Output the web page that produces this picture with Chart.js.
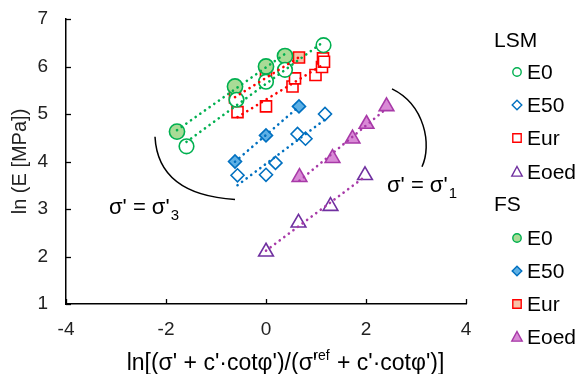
<!DOCTYPE html>
<html lang="en">
<head>
<meta charset="UTF-8">
<title>ln E vs ln stress</title>
<script src="https://cdn.jsdelivr.net/npm/chart.js"></script>
<style>
    body { margin: 0; background: #fff; }
    #wrap { width: 577px; height: 374px; }
</style>
</head>
<body>
<div id="wrap"><canvas id="chart" width="577" height="374"></canvas></div>
<script>
    // LSM (open markers)
    const lsmE0X = [-1.59, -0.59, 0.0, 0.38, 1.15];
    const lsmE0Y = [4.32, 5.30, 5.68, 5.93, 6.45];
    const lsmE50X = [-0.57, 0.0, 0.19, 0.63, 0.79, 1.18];
    const lsmE50Y = [3.71, 3.72, 3.97, 4.58, 4.48, 5.00];
    const lsmEurX = [-0.57, 0.0, 0.53, 0.58, 0.99, 1.12, 1.14, 1.16];
    const lsmEurY = [5.04, 5.16, 5.58, 5.75, 5.82, 5.99, 6.17, 6.10];
    const lsmEoedX = [0.0, 0.65, 1.29, 1.98];
    const lsmEoedY = [2.10, 2.71, 3.06, 3.71];

    // FS (filled markers)
    const fsE0X = [-1.78, -0.62, 0.0, 0.38];
    const fsE0Y = [4.63, 5.58, 6.00, 6.22];
    const fsE50X = [-0.62, 0.0, 0.66];
    const fsE50Y = [4.00, 4.55, 5.16];
    const fsEurX = [-0.62, 0.0, 0.66];
    const fsEurY = [5.35, 5.77, 6.19];
    const fsEoedX = [0.67, 1.33, 1.73, 2.01, 2.41];
    const fsEoedY = [3.67, 4.07, 4.48, 4.79, 5.16];

    const xTicks = [-4, -2, 0, 2, 4];
    const yTicks = [1, 2, 3, 4, 5, 6, 7];

    const FONT = '"Liberation Sans", Arial, sans-serif';

    const GREEN = '#00B050', BLUE = '#0070C0', RED = '#FF0000', VIOLET = '#7030A0', MAGENTA = '#A83AA8';

    // series definitions: style of each group
    const series = [
        { name: 'E0',   group: 'LSM', xs: lsmE0X,   ys: lsmE0Y,   style: 'circle',   r: 7.3, stroke: GREEN,  fill: '#ffffff', line: GREEN },
        { name: 'E50',  group: 'LSM', xs: lsmE50X,  ys: lsmE50Y,  style: 'rectRot',  r: 6.5, stroke: BLUE,   fill: '#ffffff', line: BLUE },
        { name: 'Eur',  group: 'LSM', xs: lsmEurX,  ys: lsmEurY,  style: 'rect',     r: 7.8, stroke: RED,    fill: '#ffffff', line: RED },
        { name: 'Eoed', group: 'LSM', xs: lsmEoedX, ys: lsmEoedY, style: 'triangle', r: 8.5, stroke: VIOLET, fill: '#ffffff', line: MAGENTA },
        { name: 'E0',   group: 'FS',  xs: fsE0X,    ys: fsE0Y,    style: 'circle',   r: 7.6, stroke: GREEN,  fill: '#A9DB96', line: GREEN },
        { name: 'E50',  group: 'FS',  xs: fsE50X,   ys: fsE50Y,   style: 'rectRot',  r: 6.5, stroke: BLUE,   fill: '#5EB0E5', line: BLUE },
        { name: 'Eur',  group: 'FS',  xs: fsEurX,   ys: fsEurY,   style: 'rect',     r: 7.8, stroke: RED,    fill: '#F8C3A8', line: RED },
        { name: 'Eoed', group: 'FS',  xs: fsEoedX,  ys: fsEoedY,  style: 'triangle', r: 8.5, stroke: MAGENTA, fill: '#D98AD6', line: MAGENTA }
    ];

    // least squares trend line across the x range of a series
    function trend(xs, ys) {
        const n = xs.length;
        const mx = xs.reduce((a, b) => a + b, 0) / n;
        const my = ys.reduce((a, b) => a + b, 0) / n;
        let sxy = 0, sxx = 0;
        for (let i = 0; i < n; i++) {
            sxy += (xs[i] - mx) * (ys[i] - my);
            sxx += (xs[i] - mx) * (xs[i] - mx);
        }
        const b = sxy / sxx, a = my - b * mx;
        const x0 = Math.min(...xs), x1 = Math.max(...xs);
        return [{ x: x0, y: a + b * x0 }, { x: x1, y: a + b * x1 }];
    }

    const datasets = [];
    series.forEach(s => {
        datasets.push({
            label: s.group + ' ' + s.name + ' trend',
            data: trend(s.xs, s.ys),
            showLine: true,
            borderColor: s.line,
            borderWidth: 2.6,
            borderDash: [0.1, 5.6],
            borderCapStyle: 'round',
            pointRadius: 0,
            fill: false,
            order: 0
        });
    });
    series.forEach(s => {
        datasets.push({
            label: s.group + ' ' + s.name,
            data: s.xs.map((x, i) => ({ x: x, y: s.ys[i] })),
            showLine: false,
            pointStyle: s.style,
            pointRadius: s.r,
            pointBorderWidth: 1.6,
            pointBorderColor: s.stroke,
            pointBackgroundColor: s.fill,
            order: 1
        });
    });

    // annotation arcs (data units) and labels
    const arcLeft = [[-2.22, 4.52], [-2.16, 3.30], [-0.62, 3.20]];
    const arcRight = [[2.52, 5.53], [3.18, 5.19], [3.32, 4.35], [3.12, 3.89]];

    // small marker for the legend
    function marker(ctx, style, x, y, r, fill, stroke) {
        ctx.save();
        ctx.beginPath();
        if (style === 'circle') {
            ctx.arc(x, y, r, 0, Math.PI * 2);
        } else if (style === 'rect') {
            ctx.rect(x - r, y - r, 2 * r, 2 * r);
        } else if (style === 'rectRot') {
            ctx.moveTo(x, y - r); ctx.lineTo(x + r, y); ctx.lineTo(x, y + r); ctx.lineTo(x - r, y); ctx.closePath();
        } else {
            ctx.moveTo(x, y - r); ctx.lineTo(x + r * 0.95, y + r * 0.75); ctx.lineTo(x - r * 0.95, y + r * 0.75); ctx.closePath();
        }
        ctx.fillStyle = fill;
        ctx.fill();
        ctx.lineWidth = 1.4;
        ctx.strokeStyle = stroke;
        ctx.stroke();
        ctx.restore();
    }

    const extras = {
        id: 'extras',
        afterDraw(chart) {
            const ctx = chart.ctx;
            const xs = chart.scales.x, ys = chart.scales.y;
            const area = chart.chartArea;
            ctx.save();
            // inside tick marks
            ctx.strokeStyle = '#000';
            ctx.lineWidth = 1.3;
            xTicks.forEach(v => {
                const px = Math.round(xs.getPixelForValue(v)) + 0.5;
                ctx.beginPath(); ctx.moveTo(px, area.bottom); ctx.lineTo(px, area.bottom - 5); ctx.stroke();
            });
            yTicks.forEach(v => {
                const py = Math.round(ys.getPixelForValue(v)) + 0.5;
                ctx.beginPath(); ctx.moveTo(area.left, py); ctx.lineTo(area.left + 5, py); ctx.stroke();
            });

            // arcs
            const P = p => [xs.getPixelForValue(p[0]), ys.getPixelForValue(p[1])];
            ctx.lineWidth = 1.5;
            let a = arcLeft.map(P);
            ctx.beginPath(); ctx.moveTo(a[0][0], a[0][1]); ctx.quadraticCurveTo(a[1][0], a[1][1], a[2][0], a[2][1]); ctx.stroke();
            a = arcRight.map(P);
            ctx.beginPath(); ctx.moveTo(a[0][0], a[0][1]); ctx.bezierCurveTo(a[1][0], a[1][1], a[2][0], a[2][1], a[3][0], a[3][1]); ctx.stroke();

            // sigma labels
            ctx.fillStyle = '#000';
            ctx.textBaseline = 'alphabetic';
            ctx.textAlign = 'left';
            function sigma(x, y, sub) {
                ctx.font = '22px ' + FONT;
                ctx.fillText("σ' = σ'", x, y);
                const w = ctx.measureText("σ' = σ'").width;
                ctx.font = '15px ' + FONT;
                ctx.fillText(sub, x + w + 1, y + 6);
            }
            sigma(109, 214, '3');
            sigma(387, 192, '1');

            // x axis title with superscript "ref"
            const base = 370;
            const p1 = "ln[(σ' + c'·cotφ')/(σ'";
            const p2 = 'ref';
            const p3 = " + c'·cotφ')]";
            ctx.font = '23px ' + FONT;
            const w1 = ctx.measureText(p1).width, w3 = ctx.measureText(p3).width;
            ctx.font = '14px ' + FONT;
            const w2 = ctx.measureText(p2).width;
            let x0 = 287 - (w1 + w2 + w3) / 2;
            ctx.font = '23px ' + FONT;
            ctx.fillText(p1, x0, base);
            ctx.font = '14px ' + FONT;
            ctx.fillText(p2, x0 + w1 - 4, base - 10);
            ctx.font = '23px ' + FONT;
            ctx.fillText(p3, x0 + w1 + w2 - 3, base);

            // legend with group headers
            ctx.textBaseline = 'middle';
            const rows = [41, 72, 105, 138, 172, 205, 238, 271, 304, 337];
            const legR = { circle: 4.2, rect: 4.2, rectRot: 4.8, triangle: 5.5 };
            let ri = 0;
            ['LSM', 'FS'].forEach(g => {
                ctx.font = '21px ' + FONT;
                ctx.fillStyle = '#000';
                ctx.fillText(g, 494, rows[ri++]);
                series.filter(s => s.group === g).forEach(s => {
                    const y = rows[ri++];
                    marker(ctx, s.style, 517, y, legR[s.style], s.fill, s.stroke);
                    ctx.font = '21px ' + FONT;
                    ctx.fillStyle = '#000';
                    ctx.fillText(s.name, 527, y + 1);
                });
            });
            ctx.restore();
        }
    };

    new Chart(document.getElementById('chart'), {
        type: 'scatter',
        data: { datasets: datasets },
        options: {
            responsive: false,
            animation: false,
            layout: { padding: { top: 19, right: 111, left: 0, bottom: 0 } },
            plugins: { legend: { display: false }, tooltip: { enabled: false } },
            scales: {
                x: {
                    type: 'linear', min: -4, max: 4,
                    afterFit: s => { s.height = 70; s.paddingLeft = 0; s.paddingRight = 0; },
                    afterBuildTicks: s => { s.ticks = xTicks.map(v => ({ value: v })); },
                    grid: { display: false, drawTicks: false },
                    border: { display: true, color: '#000', width: 1.5 },
                    ticks: { color: '#222', font: { family: FONT, size: 19 }, padding: 14 }
                },
                y: {
                    type: 'linear', min: 1, max: 7,
                    afterFit: s => { s.width = 66; s.paddingTop = 0; s.paddingBottom = 0; },
                    afterBuildTicks: s => { s.ticks = yTicks.map(v => ({ value: v })); },
                    grid: { display: false, drawTicks: false },
                    border: { display: true, color: '#000', width: 1.5 },
                    ticks: { color: '#222', font: { family: FONT, size: 19 }, padding: 18 },
                    title: { display: true, text: 'ln (E [MPa])', color: '#222', font: { family: FONT, size: 20 }, padding: { top: 8, bottom: 0 } }
                }
            }
        },
        plugins: [extras]
    });
</script>
</body>
</html>
